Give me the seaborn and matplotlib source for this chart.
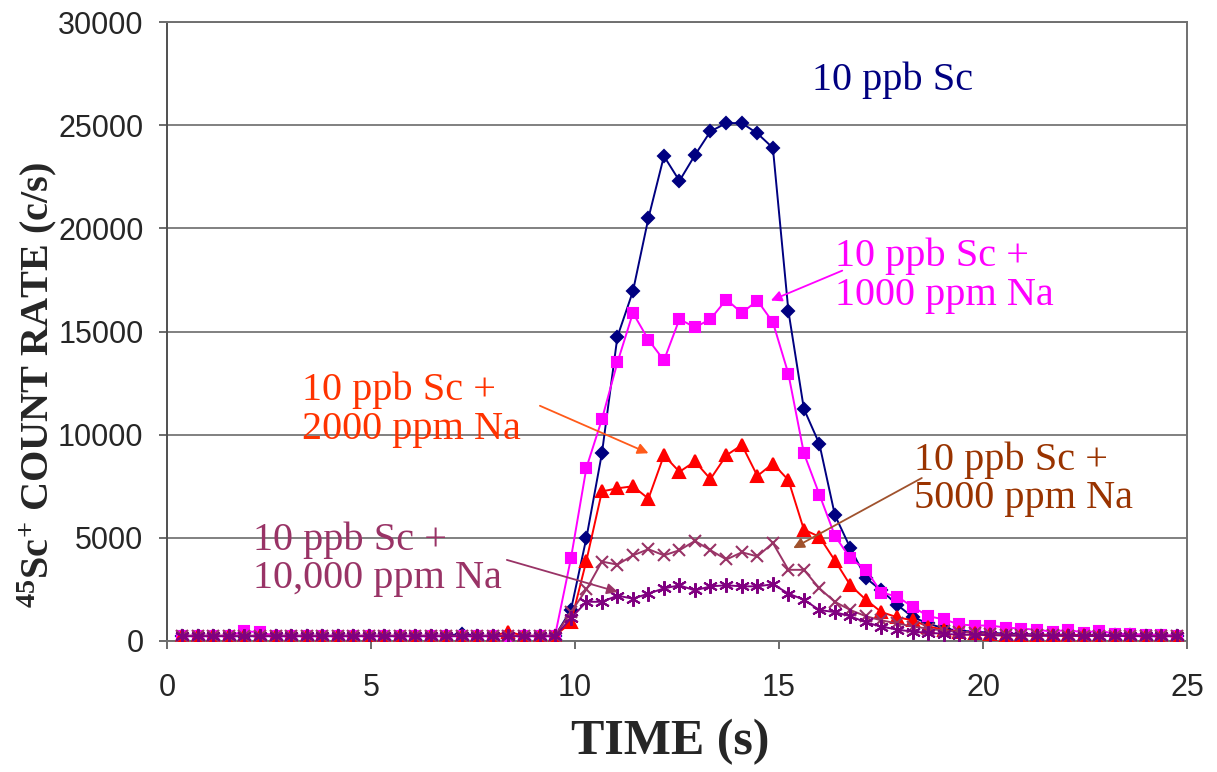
import matplotlib
matplotlib.use("Agg")
import matplotlib.pyplot as plt
import pandas as pd
import seaborn as sns


# sample times (s)
time_s = [
    0.37, 0.75, 1.13, 1.51, 1.89, 2.28, 2.66, 3.04, 3.42, 3.80,
    4.18, 4.56, 4.94, 5.32, 5.70, 6.09, 6.47, 6.85, 7.23, 7.61,
    7.99, 8.37, 8.75, 9.13, 9.51, 9.90, 10.28, 10.66, 11.04, 11.42,
    11.80, 12.18, 12.56, 12.94, 13.32, 13.71, 14.09, 14.47, 14.85, 15.23,
    15.61, 15.99, 16.37, 16.75, 17.13, 17.51, 17.90, 18.28, 18.66, 19.04,
    19.42, 19.80, 20.18, 20.56, 20.94, 21.32, 21.71, 22.09, 22.47, 22.85,
    23.23, 23.61, 23.99, 24.37, 24.75,
]

sc_only = [
    250, 250, 250, 250, 250, 250, 250, 250, 250, 250,
    250, 250, 250, 250, 250, 250, 250, 250, 350, 250,
    250, 250, 250, 250, 250, 1500, 5000, 9100, 14750, 16950,
    20500, 23500, 22300, 23550, 24700, 25100, 25100, 24600, 23900, 16000,
    11250, 9550, 6100, 4500, 3050, 2450, 1750, 1150, 850, 600,
    500, 450, 400, 350, 350, 300, 300, 300, 280, 280,
    270, 270, 260, 260, 250,
]

na_1000 = [
    250, 250, 250, 250, 480, 420, 250, 250, 250, 250,
    250, 250, 250, 250, 250, 250, 250, 250, 250, 250,
    250, 250, 250, 250, 250, 4000, 8400, 10750, 13500, 15900,
    14600, 13600, 15600, 15200, 15600, 16550, 15900, 16500, 15450, 12950,
    9100, 7100, 5100, 4000, 3450, 2350, 2150, 1650, 1200, 1050,
    800, 750, 750, 650, 600, 550, 450, 550, 400, 500,
    350, 350, 300, 300, 250,
]

na_2000 = [
    250, 250, 250, 250, 250, 250, 250, 250, 250, 250,
    250, 250, 250, 250, 250, 250, 250, 250, 250, 250,
    250, 450, 250, 250, 250, 900, 3900, 7250, 7400, 7500,
    6900, 9000, 8200, 8700, 7850, 9000, 9500, 8000, 8600, 7800,
    5400, 5050, 3900, 2700, 2000, 1400, 1150, 1000, 700, 550,
    450, 400, 350, 300, 300, 300, 280, 280, 270, 260,
    250, 250, 250, 250, 250,
]

na_5000 = [
    250, 250, 250, 250, 250, 250, 250, 250, 250, 250,
    250, 250, 250, 250, 250, 250, 250, 250, 250, 250,
    250, 250, 250, 250, 250, 1400, 2500, 3850, 3700, 4150,
    4450, 4150, 4400, 4850, 4400, 3950, 4300, 4100, 4750, 3450,
    3450, 2550, 1900, 1500, 1200, 1000, 850, 700, 600, 500,
    450, 400, 350, 300, 300, 280, 270, 260, 250, 250,
    250, 250, 240, 240, 240,
]

na_10000 = [
    230, 230, 230, 230, 230, 230, 230, 230, 230, 230,
    230, 230, 230, 230, 230, 230, 230, 230, 230, 230,
    230, 230, 230, 230, 230, 1100, 1900, 1900, 2200, 2050,
    2300, 2550, 2700, 2450, 2650, 2700, 2650, 2650, 2750, 2300,
    2000, 1500, 1400, 1200, 900, 700, 550, 450, 400, 350,
    300, 300, 280, 260, 250, 250, 250, 250, 240, 240,
    240, 240, 230, 230, 230,
]

SERIES = [
    ("10 ppb Sc", sc_only, "#000080", "D", 6.3),
    ("10 ppb Sc + 1000 ppm Na", na_1000, "#FF00FF", "s", 7.2),
    ("10 ppb Sc + 2000 ppm Na", na_2000, "#FF0000", "^", 8.5),
    ("10 ppb Sc + 5000 ppm Na", na_5000, "#993366", "x", 9),
    ("10 ppb Sc + 10,000 ppm Na", na_10000, "#800080", (6, 2, 0), 10.5),
]

# label text, text anchor (t, counts), arrow tail, arrow head, colours
LABELS = [
    ("10 ppb Sc", (15.8, 27200), None, None, "#000080", "#000080"),
    ("10 ppb Sc +\n1000 ppm Na", (16.37, 17700), (16.55, 17950), (14.8, 16500), "#FF00FF", "#FF00FF"),
    ("10 ppb Sc +\n2000 ppm Na", (3.3, 11200), (9.14, 11400), (11.8, 9100), "#FF3300", "#FF5A1A"),
    ("10 ppb Sc +\n5000 ppm Na", (18.3, 7850), (18.5, 7900), (15.35, 4500), "#993300", "#A0522D"),
    ("10 ppb Sc +\n10,000 ppm Na", (2.1, 3950), (8.33, 3930), (11.05, 2380), "#993366", "#993366"),
]

sns.set_style("ticks")
plt.rcParams["mathtext.fontset"] = "custom"
plt.rcParams["mathtext.rm"] = "Liberation Serif:bold"
plt.rcParams["mathtext.it"] = "Liberation Serif:bold"
plt.rcParams["mathtext.bf"] = "Liberation Serif:bold"

fig = plt.figure(figsize=(12.17, 7.72), dpi=100)
ax = fig.add_axes([167 / 1217, 1 - 641 / 772, 1020 / 1217, 619 / 772])

for name, values, color, marker, size in SERIES:
    df = pd.DataFrame({"time": time_s, "rate": values})
    sns.lineplot(
        data=df, x="time", y="rate", ax=ax, color=color, lw=1.4,
        marker=marker, markersize=size, markeredgecolor=color,
        markeredgewidth=1.5, markerfacecolor=color, sort=False, zorder=3,
    )

for text, pos, tail, head, tcolor, acolor in LABELS:
    ax.text(pos[0], pos[1], text, color=tcolor, fontsize=29,
            family="Liberation Serif", ha="left", va="center",
            linespacing=1.05, zorder=5)
    if tail is not None:
        ax.annotate("", xy=head, xytext=tail,
                    arrowprops=dict(arrowstyle="-|>", color=acolor, lw=1.3,
                                    mutation_scale=16, shrinkA=0, shrinkB=0),
                    zorder=5)

ax.set_xlim(0, 25)
ax.set_ylim(0, 30000)
ax.set_xticks(range(0, 26, 5))
ax.set_yticks(range(0, 30001, 5000))
ax.yaxis.grid(True, color="#808080", lw=1.4)
ax.set_axisbelow(True)
for side in ["left", "bottom", "right", "top"]:
    ax.spines[side].set_color("#707070")
    ax.spines[side].set_linewidth(1.4)
ax.spines["left"].set_color("#505050")
ax.tick_params(axis="both", direction="out", length=6, width=1.3, color="#606060",
               labelsize=22)
ax.tick_params(axis="x", pad=17)
ax.tick_params(axis="y", pad=11)
for lab in ax.get_xticklabels() + ax.get_yticklabels():
    lab.set_family("Liberation Sans")

ax.set_xlabel("TIME (s)", family="Liberation Serif", fontweight="bold",
              fontsize=36, va="center")
ax.xaxis.set_label_coords(0.493, -0.163)
ax.set_ylabel(r"$^{45}$Sc$^{+}$ COUNT RATE (c/s)", family="Liberation Serif",
              fontweight="bold", fontsize=29, va="center")
ax.yaxis.set_label_coords(-0.127, 0.414)

fig.savefig("out.png", dpi=100)
